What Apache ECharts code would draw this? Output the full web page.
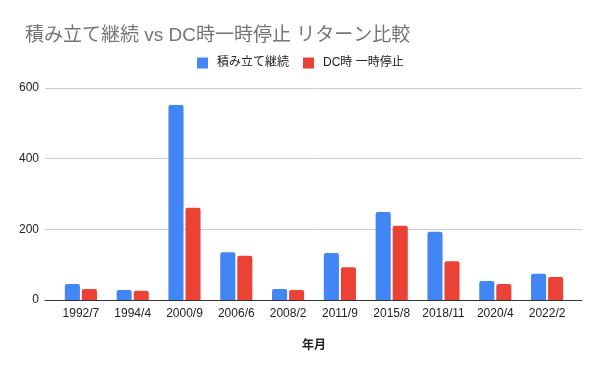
<!DOCTYPE html>
<html><head><meta charset="utf-8">
<script src="https://cdn.jsdelivr.net/npm/echarts@6/dist/echarts.min.js"></script>
<style>html,body{margin:0;padding:0;background:#fff}#c{width:600px;height:371px}</style>
</head><body><div id="c"></div>
<script>
const categories = ['1992/7','1994/4','2000/9','2006/6','2008/2','2011/9','2015/8','2018/11','2020/4','2022/2'];
const continued = [45, 28, 552, 135, 31, 133, 249, 193, 54, 74];
const paused = [31, 26, 261, 125, 28, 93, 210, 110, 45, 65];
const seriesNames = ['積み立て継続', 'DC時 一時停止'];
const yTicks = {min: 0, max: 600, interval: 200};

const font = '"Liberation Sans", Arial, "Noto Sans CJK JP", sans-serif';
const chart = echarts.init(document.getElementById('c'));
chart.setOption({
  animation: false,
  title: {text: '積み立て継続 vs DC時一時停止 リターン比較', left: 20, top: 21,
    textStyle: {fontSize: 19, fontWeight: 'normal', color: '#757575', fontFamily: font}},
  legend: {left: 192, top: 52, itemWidth: 11, itemHeight: 11, itemGap: 14,
    icon: 'rect', data: seriesNames,
    textStyle: {fontSize: 12, color: '#222', fontFamily: font, padding: [0, 0, 0, 4]}},
  grid: [
    {left: 45, right: 18, top: 88, bottom: 71},
    {left: 55, right: 27, top: 88, bottom: 71}
  ],
  xAxis: [
    {type: 'value', gridIndex: 0, min: 0, max: 1, show: true,
      axisLabel: {show: false}, axisTick: {show: false}, splitLine: {show: false},
      axisLine: {show: true, lineStyle: {color: '#333'}}},
    {type: 'category', gridIndex: 1, data: categories, name: '年月', nameLocation: 'middle', nameGap: 40,
      nameTextStyle: {fontSize: 12, color: '#222', fontWeight: 'bold', fontFamily: font},
      axisTick: {show: false}, axisLine: {show: false},
      axisLabel: {fontSize: 12, color: '#222', fontFamily: font, margin: 8, interval: 0}}
  ],
  yAxis: [
    {type: 'value', gridIndex: 0, min: yTicks.min, max: yTicks.max, interval: yTicks.interval,
      axisLabel: {fontSize: 12, color: '#222', fontFamily: font, margin: 6},
      axisLine: {show: false}, axisTick: {show: false},
      splitLine: {lineStyle: {color: '#ccc'}}},
    {type: 'value', gridIndex: 1, min: yTicks.min, max: yTicks.max, interval: yTicks.interval,
      show: false, splitLine: {show: false}}
  ],
  series: [
    {name: seriesNames[0], type: 'bar', xAxisIndex: 1, yAxisIndex: 1, data: continued,
      itemStyle: {color: '#4285F4', borderRadius: [2,2,0,0]},
      barGap: '13%', barCategoryGap: '38%'},
    {name: seriesNames[1], type: 'bar', xAxisIndex: 1, yAxisIndex: 1, data: paused,
      itemStyle: {color: '#EA4335', borderRadius: [2,2,0,0]}}
  ]
});
</script></body></html>
